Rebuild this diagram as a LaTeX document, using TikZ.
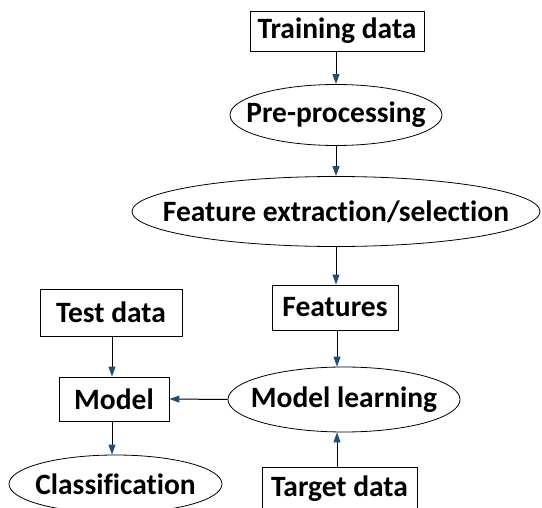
\documentclass[tikz,border=0pt]{standalone}
\usepackage{fontspec}
\setmainfont[RawFeature={-liga;-clig;-calt;-dlig}]{Carlito}
\usetikzlibrary{shapes.geometric,arrows.meta}
\definecolor{tipblue}{HTML}{1F4E79}
\newcommand{\fixw}[1]{\makebox[0pt]{#1}}
\begin{document}
\begin{tikzpicture}[x=1pt,y=-1pt,
  lbl/.style={font=\bfseries\fontsize{29.5}{32}\selectfont, inner sep=0pt, text=black},
  rbox/.style={lbl, draw=black, line width=0.9pt, rectangle},
  ell/.style={lbl, draw=black, line width=0.8pt, ellipse},
  conn/.style={draw=black, line width=1pt, -{Triangle[length=10pt,width=7pt,color=tipblue]}}]
\useasboundingbox (0,0) rectangle (542,508);
\node[rbox, minimum width=174pt, minimum height=40pt] (train) at (337,31) {Training data};
\node[ell, minimum width=212pt, minimum height=61pt] (pre) at (336,115) {\fixw{Pre-processing}};
\node[ell, minimum width=408pt, minimum height=70pt] (feat) at (336,211.5) {\fixw{Feature extraction/selection}};
\node[rbox, minimum width=126pt, minimum height=45pt] (features) at (335,307.5) {Features};
\node[rbox, minimum width=142pt, minimum height=47pt] (test) at (111,312.5) {Test data};
\node[rbox, minimum width=110pt, minimum height=44pt] (model) at (114,399) {Model};
\node[ell, minimum width=232pt, minimum height=65pt] (learn) at (344,399.5) {\fixw{Model learning}};
\node[ell, minimum width=213pt, minimum height=58pt] (class) at (115.5,484) {\fixw{Classification}};
\node[rbox, minimum width=155pt, minimum height=44pt] (target) at (339.5,489) {Target data};
\draw[conn] (train.south -| 336,0) -- (pre.north -| 336,0);
\draw[conn] (pre.south -| 336,0) -- (feat.north -| 336,0);
\draw[conn] (feat.south -| 336,0) -- (features.north -| 336,0);
\draw[conn] (features.south -| 337,0) -- (learn.north -| 337,0);
\draw[conn] (target.north -| 337,0) -- (learn.south -| 337,0);
\draw[conn] (test.south -| 112,0) -- (model.north -| 112,0);
\draw[conn] (model.south -| 112,0) -- (class.north -| 112,0);
\draw[conn] (learn.west) -- (model.east);
\end{tikzpicture}
\end{document}
